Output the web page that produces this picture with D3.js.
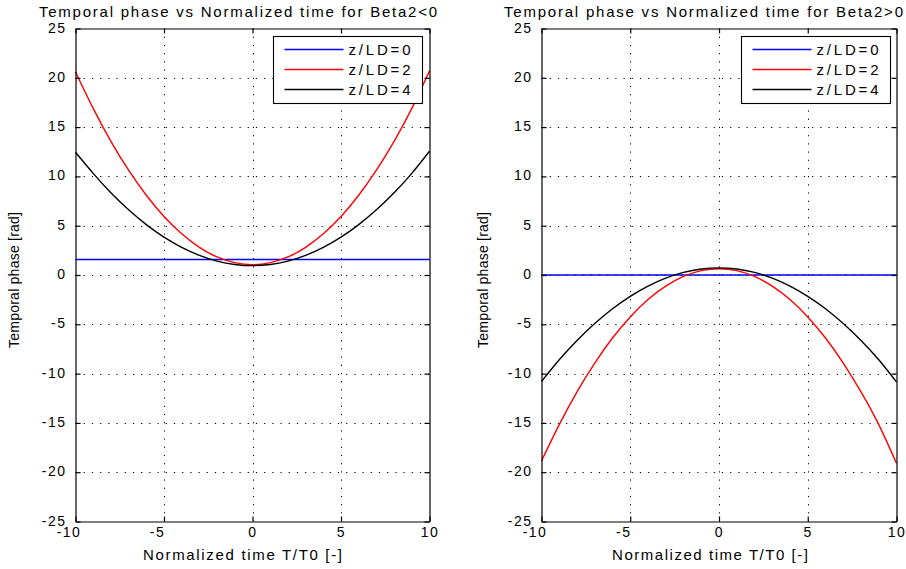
<!DOCTYPE html>
<html><head><meta charset="utf-8">
<script src="https://cdn.jsdelivr.net/npm/d3@7/dist/d3.min.js"></script>
<style>
body{margin:0;background:#fff;}
svg{display:block;font-family:"Liberation Sans",Arial,Helvetica,sans-serif;}
</style></head><body>
<svg id="c" width="906" height="569"></svg>
<script>
// ---- data ----
const timeValues = [-10,-9,-8,-7,-6,-5,-4,-3,-2,-1,0,1,2,3,4,5,6,7,8,9,10];
const xTicks = [-10,-5,0,5,10];
const yTicks = [-25,-20,-15,-10,-5,0,5,10,15,20,25];
const seriesNames = ["z/LD=0","z/LD=2","z/LD=4"];
const panelTitles = ["Temporal phase vs Normalized time for Beta2<0","Temporal phase vs Normalized time for Beta2>0"];
const xLabel = "Normalized time T/T0 [-]";
const yLabel = "Temporal phase [rad]";

// Beta2 < 0 panel
const negBlue  = [1.57,1.57,1.57,1.57,1.57,1.57,1.57,1.57,1.57,1.57,1.57,1.57,1.57,1.57,1.57,1.57,1.57,1.57,1.57,1.57,1.57];
const negRed   = [20.6,16.9,13.56,10.63,8.09,5.94,4.18,2.81,1.83,1.25,1.05,1.25,1.83,2.81,4.18,5.94,8.09,10.63,13.56,16.9,20.7];
const negBlack = [12.45,10.31,8.34,6.61,5.11,3.84,2.80,1.99,1.41,1.07,0.95,1.07,1.41,1.99,2.80,3.84,5.11,6.61,8.34,10.31,12.55];
// Beta2 > 0 panel
const posBlue  = [0,0,0,0,0,0,0,0,0,0,0,0,0,0,0,0,0,0,0,0,0];
const posRed   = [-18.85,-15.17,-11.85,-8.93,-6.39,-4.25,-2.49,-1.13,-0.15,0.44,0.63,0.44,-0.15,-1.13,-2.49,-4.25,-6.39,-8.93,-11.85,-15.17,-19.1];
const posBlack = [-10.8,-8.60,-6.64,-4.92,-3.42,-2.16,-1.12,-0.32,0.26,0.61,0.72,0.61,0.26,-0.32,-1.12,-2.16,-3.42,-4.92,-6.64,-8.60,-10.85];

// ---- styling / layout ----
const colors = ["#0000ff","#ff0000","#000000"];
const yTop = 28.5, yBot = 521.5;
const panels = [
  {x0:75.5, x1:429.5, series:[negBlue,negRed,negBlack], titleX:39, titleW:398, xlabX:143, xlabW:199, ylabX:18.5, legX:273.5},
  {x0:541.5, x1:896.5, series:[posBlue,posRed,posBlack], titleX:504, titleW:399, xlabX:612, xlabW:196, ylabX:487.5, legX:741.5}
];

const svg = d3.select("#c");
svg.append("rect").attr("width",906).attr("height",569).attr("fill","#fff");

panels.forEach((p, pi) => {
  const x = d3.scaleLinear().domain([-10,10]).range([p.x0, p.x1]);
  const y = d3.scaleLinear().domain([-25,25]).range([yBot, yTop]);
  const g = svg.append("g");

  g.append("rect").attr("x",p.x0).attr("y",yTop).attr("width",p.x1-p.x0).attr("height",yBot-yTop).attr("fill","#fff");

  // grid
  const grid = g.append("g").attr("stroke","#000").attr("stroke-width",1).attr("stroke-dasharray","1.2,7");
  xTicks.filter(t => t > -10 && t < 10).forEach(t => {
    grid.append("line").attr("x1",Math.round(x(t))+0.5).attr("x2",Math.round(x(t))+0.5).attr("y1",yTop).attr("y2",yBot);
  });
  yTicks.filter(t => t > -25 && t < 25).forEach(t => {
    grid.append("line").attr("y1",Math.round(y(t))+0.5).attr("y2",Math.round(y(t))+0.5).attr("x1",p.x0).attr("x2",p.x1);
  });

  // curves
  const line = d3.line().x((d,i) => x(timeValues[i])).y(d => y(d)).curve(d3.curveNatural);
  p.series.forEach((s, si) => {
    g.append("path").attr("d", line(s)).attr("fill","none").style("stroke",colors[si]).style("stroke-width","1.4px");
  });

  // axes
  const fmt = d => String(d);
  const styleAxis = sel => {
    sel.selectAll(".domain").attr("stroke","#000").attr("stroke-width",1.2).attr("fill","none");
    sel.selectAll(".tick line").attr("stroke","#000").attr("stroke-width",1.2);
    sel.selectAll("text").attr("fill","#000").style("font-size","14px").style("letter-spacing","1.5px")
      .style("font-family",'"Liberation Sans",Arial,sans-serif');
  };
  const ax = g.append("g").attr("transform",`translate(0,${yBot})`)
    .call(d3.axisBottom(x).tickValues(xTicks).tickFormat(fmt).tickSizeInner(-5).tickSizeOuter(0).tickPadding(5.5));
  styleAxis(ax);
  ax.selectAll("text").attr("dx", d => d < 0 ? -7 : 0);
  const at = g.append("g").attr("transform",`translate(0,${yTop})`)
    .call(d3.axisTop(x).tickValues(xTicks).tickSizeInner(-5).tickSizeOuter(0).tickFormat(""));
  styleAxis(at);
  const ay = g.append("g").attr("transform",`translate(${p.x0},0)`)
    .call(d3.axisLeft(y).tickValues(yTicks).tickFormat(fmt).tickSizeInner(-5).tickSizeOuter(0).tickPadding(9));
  styleAxis(ay);
  ay.selectAll("text").attr("dy","0.25em");
  const ar = g.append("g").attr("transform",`translate(${p.x1},0)`)
    .call(d3.axisRight(y).tickValues(yTicks).tickSizeInner(-5).tickSizeOuter(0).tickFormat(""));
  styleAxis(ar);

  // titles & labels
  g.append("text").attr("x",p.titleX).attr("y",16.5).attr("font-size",15)
    .attr("textLength",p.titleW).attr("lengthAdjust","spacing").text(panelTitles[pi]);
  g.append("text").attr("x",p.xlabX).attr("y",560).attr("font-size",15)
    .attr("textLength",p.xlabW).attr("lengthAdjust","spacing").text(xLabel);
  g.append("text").attr("transform",`translate(${p.ylabX},280) rotate(-90)`).attr("text-anchor","middle")
    .attr("font-size",14).attr("textLength",136).attr("lengthAdjust","spacing").text(yLabel);

  // legend
  const lg = g.append("g");
  lg.append("rect").attr("x",p.legX).attr("y",36.5).attr("width",149).attr("height",67)
    .attr("fill","#fff").attr("stroke","#000").attr("stroke-width",1.1);
  seriesNames.forEach((nm, i) => {
    const ry = 49.5 + i*20;
    lg.append("line").attr("x1",p.legX+11).attr("x2",p.legX+70).attr("y1",ry).attr("y2",ry)
      .style("stroke",colors[i]).style("stroke-width","1.6px");
    lg.append("text").attr("x",p.legX+75).attr("y",ry+5.5).attr("font-size",15)
      .attr("textLength",62).attr("lengthAdjust","spacing").text(nm);
  });
});
</script>
</body></html>
